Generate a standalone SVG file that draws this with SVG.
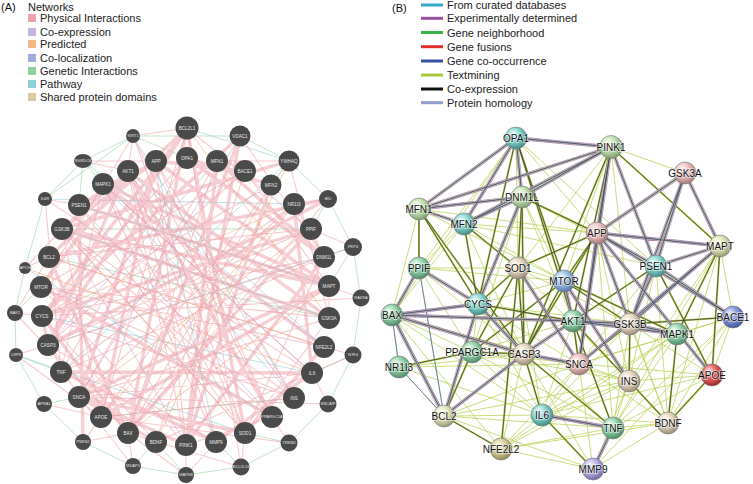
<svg xmlns="http://www.w3.org/2000/svg" xmlns:xlink="http://www.w3.org/1999/xlink" width="753" height="484" viewBox="0 0 753 484">
<style>
text{font-family:"Liberation Sans",Arial,sans-serif}
.lg{font-size:11px;fill:#222}
.pl{font-size:11px;fill:#111}
.an{fill:#4a4a4a}
.at{font-size:4.6px;fill:#e6e6e6;text-anchor:middle}
.as{font-size:4px;fill:#e6e6e6;text-anchor:middle}
.bt{font-size:10px;fill:#111;text-anchor:middle;stroke:#fff;stroke-width:1.6px;stroke-opacity:.6;paint-order:stroke}
.bn{stroke:#777;stroke-width:.6}
.e{fill:none;stroke-linecap:round}
.pk1{stroke:#ee9da7;stroke-width:3.4;opacity:.5}
.pk2{stroke:#ef9ea8;stroke-width:1.1;opacity:.55}
.gr{stroke:#8fd0a0;stroke-width:.8;opacity:.7}
.cy{stroke:#8ccad8;stroke-width:.8;opacity:.7}
.or{stroke:#f3b27a;stroke-width:.9;opacity:.7}
.lv{stroke:#bba8dc;stroke-width:.8;opacity:.7}
</style>
<defs>
<radialGradient id="gTeal" cx=".42" cy=".38" r=".62" fx=".35" fy=".3"><stop offset="0" stop-color="#f2ffff"/><stop offset=".5" stop-color="#8ad6d0"/><stop offset="1" stop-color="#3f8f8a"/></radialGradient>
<radialGradient id="gMint" cx=".42" cy=".38" r=".62" fx=".35" fy=".3"><stop offset="0" stop-color="#f2fff6"/><stop offset=".5" stop-color="#92d4aa"/><stop offset="1" stop-color="#4f8f68"/></radialGradient>
<radialGradient id="gPale" cx=".42" cy=".38" r=".62" fx=".35" fy=".3"><stop offset="0" stop-color="#fbfff6"/><stop offset=".5" stop-color="#c6e2b4"/><stop offset="1" stop-color="#82a272"/></radialGradient>
<radialGradient id="gBeige" cx=".42" cy=".38" r=".62" fx=".35" fy=".3"><stop offset="0" stop-color="#fffdf8"/><stop offset=".5" stop-color="#e6d6bf"/><stop offset="1" stop-color="#9e907a"/></radialGradient>
<radialGradient id="gPink" cx=".42" cy=".38" r=".62" fx=".35" fy=".3"><stop offset="0" stop-color="#fff8f8"/><stop offset=".5" stop-color="#eec2c2"/><stop offset="1" stop-color="#a87a7a"/></radialGradient>
<radialGradient id="gYel" cx=".42" cy=".38" r=".62" fx=".35" fy=".3"><stop offset="0" stop-color="#fffff4"/><stop offset=".5" stop-color="#e2e5bb"/><stop offset="1" stop-color="#9a9c72"/></radialGradient>
<radialGradient id="gOlive" cx=".42" cy=".38" r=".62" fx=".35" fy=".3"><stop offset="0" stop-color="#fffbea"/><stop offset=".5" stop-color="#dbd09a"/><stop offset="1" stop-color="#938957"/></radialGradient>
<radialGradient id="gBlue" cx=".42" cy=".38" r=".62" fx=".35" fy=".3"><stop offset="0" stop-color="#f4f9ff"/><stop offset=".5" stop-color="#9cc0e8"/><stop offset="1" stop-color="#5778aa"/></radialGradient>
<radialGradient id="gInd" cx=".42" cy=".38" r=".62" fx=".35" fy=".3"><stop offset="0" stop-color="#eef1ff"/><stop offset=".5" stop-color="#8899dc"/><stop offset="1" stop-color="#45559c"/></radialGradient>
<radialGradient id="gRed" cx=".42" cy=".38" r=".62" fx=".35" fy=".3"><stop offset="0" stop-color="#ffeaea"/><stop offset=".5" stop-color="#e86464"/><stop offset="1" stop-color="#a02828"/></radialGradient>
<radialGradient id="gLav" cx=".42" cy=".38" r=".62" fx=".35" fy=".3"><stop offset="0" stop-color="#f6f4ff"/><stop offset=".5" stop-color="#bcb5ea"/><stop offset="1" stop-color="#736aa8"/></radialGradient>
<path id="bS" d="M516 138L419 209M516 138L464 224M516 138L522 197M516 138L611 147M419 209L464 224M419 209L522 197M419 209L611 147M464 224L611 147M464 224L522 197M522 197L611 147M522 197L478 304M611 147L597 233M611 147L579 364M611 147L656 266M685 173L656 266M685 173L720 246M685 173L597 233M685 173L630 324M597 233L656 266M597 233L720 246M597 233L733 317M597 233L712 375M597 233L630 324M597 233L579 364M720 246L656 266M720 246L630 324M720 246L579 364M656 266L733 317M656 266L630 324M564 281L573 321M564 281L629 381M392 315L478 304M392 315L524 354M392 315L444 416M478 304L524 354M478 304L444 416M573 321L630 324M573 321L524 354M573 321L677 334M630 324L677 334M524 354L444 416M524 354L579 364M542 415L613 428M613 428L593 469M419 268L478 304M419 268L392 315M392 315L573 321M518 268L579 364"/>
<path id="bM" d="M516 138L564 281M516 138L478 304M516 138L573 321M419 209L478 304M419 209L419 268M419 209L524 354M464 224L518 268M464 224L478 304M522 197L524 354M522 197L597 233M522 197L518 268M611 147L573 321M611 147L720 246M611 147L524 354M597 233L524 354M597 233L564 281M597 233L518 268M720 246L677 334M720 246L712 375M656 266L712 375M656 266L524 354M564 281L630 324M564 281L472 352M564 281L524 354M478 304L573 321M478 304L518 268M573 321L629 381M573 321L579 364M573 321L613 428M630 324L579 364M630 324L629 381M630 324L733 317M524 354L472 352M524 354L613 428M524 354L542 415M444 416L501 449M542 415L593 469M629 381L668 423M712 375L668 423M677 334L668 423M518 268L524 354M518 268L472 352M518 268L501 449M399 367L472 352M472 352L444 416M564 281L677 334"/>
</defs>
<rect width="753" height="484" fill="#fff"/>

<g id="legend-a">
<text class="pl" x="1" y="11">(A)</text>
<text class="lg" x="28" y="11">Networks</text>
<rect x="28" y="14" width="8" height="8" fill="#eea2ab"/><text class="lg" x="40" y="22">Physical Interactions</text>
<rect x="28" y="28" width="8" height="8" fill="#c6b4da"/><text class="lg" x="40" y="35.5">Co-expression</text>
<rect x="28" y="40" width="8" height="8" fill="#f4b684"/><text class="lg" x="40" y="48">Predicted</text>
<rect x="28" y="54" width="8" height="8" fill="#9eaedc"/><text class="lg" x="40" y="61.5">Co-localization</text>
<rect x="28" y="67" width="8" height="8" fill="#8ed09e"/><text class="lg" x="40" y="74.5">Genetic Interactions</text>
<rect x="28" y="80" width="8" height="8" fill="#8ccfd8"/><text class="lg" x="40" y="88">Pathway</text>
<rect x="28" y="93" width="8" height="8" fill="#d6cc9f"/><text class="lg" x="40" y="101">Shared protein domains</text>
</g>

<g id="legend-b">
<text class="pl" x="392" y="11.5">(B)</text>
<line x1="421" y1="5" x2="443" y2="5" stroke="#3aa6cc" stroke-width="3"/><text class="lg" x="447" y="9.2">From curated databases</text>
<line x1="421" y1="18.3" x2="443" y2="18.3" stroke="#9a4f9c" stroke-width="3"/><text class="lg" x="447" y="22.3">Experimentally determined</text>
<line x1="421" y1="32.5" x2="443" y2="32.5" stroke="#38b24a" stroke-width="3"/><text class="lg" x="447" y="36.5">Gene neighborhood</text>
<line x1="421" y1="46.7" x2="443" y2="46.7" stroke="#e52a2a" stroke-width="3"/><text class="lg" x="447" y="50.7">Gene fusions</text>
<line x1="421" y1="61" x2="443" y2="61" stroke="#3450a0" stroke-width="3"/><text class="lg" x="447" y="65">Gene co-occurrence</text>
<line x1="421" y1="75" x2="443" y2="75" stroke="#a8c83c" stroke-width="3"/><text class="lg" x="447" y="79">Textmining</text>
<line x1="421" y1="89" x2="443" y2="89" stroke="#111" stroke-width="3"/><text class="lg" x="447" y="93">Co-expression</text>
<line x1="421" y1="102.7" x2="443" y2="102.7" stroke="#8f9ccc" stroke-width="3"/><text class="lg" x="447" y="106.7">Protein homology</text>
</g>

<g id="connectors-a">
<path class="e gr" d="M133 136L83 161M133 136L240 136M83 161L45 199M83 161L103 184M240 136L289 161M289 161L328 199M328 199L353 247M353 247L361 298M361 298L353 355M353 355L328 404M328 404L289 443M289 443L241 467M241 467L186 475M186 475L133 466M133 466L83 442M83 442L44 404M44 404L16 355M16 355L15 313M15 313L25 268M25 268L45 199M45 199L133 136M133 136L187 158M83 161L79 205M289 161L271 185M328 199L311 229M353 247L329 286M353 355L312 373M44 404L79 397M16 355L61 372M15 313L41 287M133 466L156 442M241 467L216 442M289 443L245 433M186 475L156 442M62 229L311 229M101 417L294 398M49 257L329 318"/>
<path class="e cy" d="M187 128L289 161M103 184L294 398M42 316L312 373M62 229L329 318M128 171L324 347M156 161L216 442M79 205L329 286M48 345L353 247M61 372L289 161M45 199L294 204M16 355L245 433M133 136L294 398M83 161L324 347M25 268L272 417"/>
<path class="e or" d="M187 128L329 318M42 316L294 204M49 257L324 347M101 417L294 204M128 433L329 286M79 397L311 229M156 442L289 161M245 433L62 229M25 268L312 373"/>
<path class="e lv" d="M217 161L48 345M240 136L79 397M186 445L62 229M272 417L79 205M312 373L103 184"/>
<path class="e pk2" d="M133 136L128 171M133 136L187 128M133 136L41 287M133 136L272 417M133 136L245 433M83 161L128 171M83 161L156 161M45 199L312 373M45 199L61 372M45 199L79 205M25 268L49 257M25 268L62 229M15 313L42 316M15 313L49 257M15 313L128 433M16 355L101 417M16 355L48 345M44 404L101 417M83 442L101 417M83 442L128 433M133 466L128 433M133 466L79 397M186 475L186 445M186 475L216 442M186 475L128 433M241 467L245 433M241 467L128 433M241 467L187 128M289 443L272 417M289 443L101 417M328 404L79 397M328 404L312 373M353 355L156 442M353 355L324 347M361 298L329 286M361 298L42 316M353 247L324 257M353 247L311 229M328 199L294 204M328 199L128 433M289 161L217 161M289 161L329 318M294 204L324 257M294 204L61 372M311 229L324 257M324 257L42 316M324 257L245 433M329 286L329 318M329 318L79 397M329 318L245 433M324 347L41 287M312 373L79 397M312 373L156 442M294 398L41 287M294 398L128 171M294 398L101 417M272 417L186 445M245 433L128 171M216 442L48 345M156 442L42 316M186 445L41 287M128 433L48 345M101 417L62 229M79 397L48 345M61 372L103 184M48 345L324 257M41 287L245 171M49 257L311 229M62 229L294 398M79 205L245 433M103 184L216 442M128 171L186 445M156 161L294 398M187 158L42 316M217 161L128 433M245 171L329 286M271 185L42 316M240 136L324 257M187 128L311 229M187 128L101 417M187 158L61 372M217 161L79 397M245 171L48 345M271 185L128 433M156 161L272 417M103 184L312 373M62 229L245 433M49 257L324 347M41 287L329 318M42 316L294 398M48 345L311 229M61 372L324 257M79 397L294 204M101 417L289 161M128 433L294 204M156 442L245 171M186 445L156 161M216 442L128 171M245 433L103 184M272 417L62 229"/>
<path class="e pk1" d="M187 128L128 433M187 128L48 345M187 128L42 316M187 128L49 257M187 128L245 433M187 158L324 257M187 158L271 185M217 161L324 257M217 161L186 445M156 161L79 397M156 161L101 417M156 161L329 286M156 161L79 205M156 161L245 171M156 161L62 229M128 171L62 229M128 171L41 287M128 171L329 318M128 171L48 345M128 171L272 417M103 184L329 286M103 184L324 347M240 136L42 316M240 136L128 433M240 136L186 445M42 316L48 345M42 316L128 433M49 257L128 433M61 372L312 373M79 397L186 445M79 397L329 286M101 417L329 286M62 229L329 286M62 229L329 318M79 205L329 286M79 205L83 442M311 229L128 433M311 229L42 316M294 204L312 373M245 433L79 397M216 442L61 372M216 442L312 373M156 442L79 397M272 417L41 287M271 185L186 445M324 257L186 445M289 161L62 229M328 199L49 257M328 199L48 345M324 347L245 433"/>
</g>

<g id="connectors-b">
<path class="e" stroke="#bcd45a" stroke-width=".8" d="M392 315L399 367M392 315L472 352M392 315L501 449M392 315L542 415M419 268L444 416M419 268L518 268M419 268L564 281M419 268L472 352M399 367L524 354M399 367L444 416M444 416L542 415M444 416L579 364M444 416L613 428M501 449L524 354M501 449L542 415M501 449L579 364M501 449L629 381M501 449L613 428M501 449L668 423M501 449L677 334M542 415L579 364M542 415L629 381M542 415L668 423M542 415L573 321M542 415L677 334M542 415L630 324M542 415L712 375M593 469L579 364M593 469L668 423M593 469L629 381M593 469L524 354M593 469L444 416M593 469L501 449M593 469L733 317M613 428L668 423M613 428L629 381M613 428L630 324M613 428L712 375M613 428L677 334M613 428L733 317M668 423L733 317M668 423L579 364M668 423L630 324M712 375L733 317M712 375L677 334M712 375L630 324M712 375L579 364M677 334L733 317M677 334L579 364M677 334L629 381M629 381L579 364M629 381L712 375M733 317L720 246M733 317L579 364M720 246L629 381M720 246L668 423M720 246L613 428M656 266L579 364M656 266L668 423M656 266L629 381M597 233L629 381M597 233L668 423M597 233L613 428M611 147L685 173M611 147L564 281M611 147L518 268M611 147L630 324M516 138L597 233M516 138L656 266M516 138L518 268M516 138L419 268M516 138L392 315M419 209L392 315M419 209L564 281M419 209L597 233M464 224L392 315M464 224L419 268M464 224L564 281M464 224L524 354M464 224L597 233M464 224L656 266M522 197L656 266M522 197L564 281M522 197L573 321M522 197L472 352M478 304L472 352M478 304L564 281M478 304L542 415M478 304L613 428M478 304L630 324M478 304L579 364M518 268L564 281M518 268L630 324M518 268L629 381M518 268L542 415M472 352L573 321M472 352L542 415M472 352L629 381M472 352L579 364M472 352L613 428M399 367L579 364M399 367L542 415M444 416L629 381M392 315L629 381M419 268L613 428"/>
<path class="e" stroke="#4a62b4" stroke-width=".9" opacity=".85" d="M392 315L444 416M399 367L444 416M419 268L444 416M564 281L630 324M630 324L677 334M392 315L399 367M478 304L392 315"/>
<path class="e" stroke="#3fb0d2" stroke-width=".9" opacity=".85" d="M573 321L630 324M542 415L613 428M395 318L447 419M597 233L656 266M564 281L573 321"/>
<use href="#bM" class="e" stroke="#b4ce50" stroke-width="2"/>
<use href="#bM" class="e" stroke="#333" stroke-width=".75"/>
<use href="#bS" class="e" stroke="#9a5a9c" stroke-width="3.4" opacity=".75"/>
<use href="#bS" class="e" stroke="#cdd79a" stroke-width="2.2"/>
<use href="#bS" class="e" stroke="#8f9ccc" stroke-width="1.3"/>
<use href="#bS" class="e" stroke="#333" stroke-width=".6"/>
</g>

<g id="nodes-a">
<g id="a-SIRT1"><circle class="an" cx="133" cy="136" r="7"/><text class="as" x="133" y="137.4">SIRT1</text></g>
<g id="a-BCL2L1"><circle class="an" cx="187" cy="128" r="11.5"/><text class="at" x="187" y="129.6">BCL2L1</text></g>
<g id="a-VDAC1"><circle class="an" cx="240" cy="136" r="10.5"/><text class="at" x="240" y="137.6">VDAC1</text></g>
<g id="a-SGRDC6"><ellipse class="an" cx="83" cy="161" rx="9" ry="7"/><text class="as" x="83" y="162.4">SGRDC6</text></g>
<g id="a-APP"><circle class="an" cx="156" cy="161" r="11"/><text class="at" x="156" y="162.6">APP</text></g>
<g id="a-OPA1"><circle class="an" cx="187" cy="158" r="11"/><text class="at" x="187" y="159.6">OPA1</text></g>
<g id="a-MFN1"><circle class="an" cx="217" cy="161" r="11"/><text class="at" x="217" y="162.6">MFN1</text></g>
<g id="a-AKT1"><circle class="an" cx="128" cy="171" r="11"/><text class="at" x="128" y="172.6">AKT1</text></g>
<g id="a-BACE1"><circle class="an" cx="245" cy="171" r="11"/><text class="at" x="245" y="172.6">BACE1</text></g>
<g id="a-YWHAQ"><circle class="an" cx="289" cy="161" r="10.5"/><text class="at" x="289" y="162.6">YWHAQ</text></g>
<g id="a-MAPK1"><circle class="an" cx="103" cy="184" r="11"/><text class="at" x="103" y="185.6">MAPK1</text></g>
<g id="a-MFN2"><circle class="an" cx="271" cy="185" r="10.5"/><text class="at" x="271" y="186.6">MFN2</text></g>
<g id="a-IL6R"><circle class="an" cx="45" cy="199" r="7"/><text class="as" x="45" y="200.4">IL6R</text></g>
<g id="a-PSEN1"><circle class="an" cx="79" cy="205" r="11"/><text class="at" x="79" y="206.6">PSEN1</text></g>
<g id="a-BID"><circle class="an" cx="328" cy="199" r="9"/><text class="as" x="328" y="200.4">BID</text></g>
<g id="a-NR1I3"><circle class="an" cx="294" cy="204" r="11"/><text class="at" x="294" y="205.6">NR1I3</text></g>
<g id="a-GSK3B"><circle class="an" cx="62" cy="229" r="11"/><text class="at" x="62" y="230.6">GSK3B</text></g>
<g id="a-PPIF"><circle class="an" cx="311" cy="229" r="11"/><text class="at" x="311" y="230.6">PPIF</text></g>
<g id="a-PKP4"><circle class="an" cx="353" cy="247" r="9"/><text class="as" x="353" y="248.4">PKP4</text></g>
<g id="a-BCL2"><circle class="an" cx="49" cy="257" r="11"/><text class="at" x="49" y="258.6">BCL2</text></g>
<g id="a-DNM1L"><circle class="an" cx="324" cy="257" r="11"/><text class="at" x="324" y="258.6">DNM1L</text></g>
<g id="a-MAPCHD"><circle class="an" cx="25" cy="268" r="6"/><text class="as" x="25" y="269.4">MAPCHD</text></g>
<g id="a-MTOR"><circle class="an" cx="41" cy="287" r="11"/><text class="at" x="41" y="288.6">MTOR</text></g>
<g id="a-MAPT"><circle class="an" cx="329" cy="286" r="11"/><text class="at" x="329" y="287.6">MAPT</text></g>
<g id="a-RAD9A"><circle class="an" cx="361" cy="298" r="8.5"/><text class="as" x="361" y="299.4">RAD9A</text></g>
<g id="a-BAK1"><circle class="an" cx="15" cy="313" r="8"/><text class="as" x="15" y="314.4">BAK1</text></g>
<g id="a-CYCS"><circle class="an" cx="42" cy="316" r="11"/><text class="at" x="42" y="317.6">CYCS</text></g>
<g id="a-GSK3A"><circle class="an" cx="329" cy="318" r="11"/><text class="at" x="329" y="319.6">GSK3A</text></g>
<g id="a-CASP3"><circle class="an" cx="48" cy="345" r="11"/><text class="at" x="48" y="346.6">CASP3</text></g>
<g id="a-NFE2L2"><circle class="an" cx="324" cy="347" r="11"/><text class="at" x="324" y="348.6">NFE2L2</text></g>
<g id="a-NTF4"><circle class="an" cx="353" cy="355" r="8.5"/><text class="as" x="353" y="356.4">NTF4</text></g>
<g id="a-LRP8"><circle class="an" cx="16" cy="355" r="7"/><text class="as" x="16" y="356.4">LRP8</text></g>
<g id="a-TNF"><circle class="an" cx="61" cy="372" r="11"/><text class="at" x="61" y="373.6">TNF</text></g>
<g id="a-IL6"><circle class="an" cx="312" cy="373" r="11"/><text class="at" x="312" y="374.6">IL6</text></g>
<g id="a-APRA1"><circle class="an" cx="44" cy="404" r="8"/><text class="as" x="44" y="405.4">APRA1</text></g>
<g id="a-SNCA"><circle class="an" cx="79" cy="397" r="11"/><text class="at" x="79" y="398.6">SNCA</text></g>
<g id="a-INS"><circle class="an" cx="294" cy="398" r="11"/><text class="at" x="294" y="399.6">INS</text></g>
<g id="a-SNCAIP"><circle class="an" cx="328" cy="404" r="8.5"/><text class="as" x="328" y="405.4">SNCAIP</text></g>
<g id="a-APOE"><circle class="an" cx="101" cy="417" r="11"/><text class="at" x="101" y="418.6">APOE</text></g>
<g id="a-PPARGC1A"><circle class="an" cx="272" cy="417" r="11"/><text class="as" x="272" y="418.4">PPARGC1A</text></g>
<g id="a-BAX"><circle class="an" cx="128" cy="433" r="11"/><text class="at" x="128" y="434.6">BAX</text></g>
<g id="a-SOD1"><circle class="an" cx="245" cy="433" r="11"/><text class="at" x="245" y="434.6">SOD1</text></g>
<g id="a-BDNF"><circle class="an" cx="156" cy="442" r="11"/><text class="at" x="156" y="443.6">BDNF</text></g>
<g id="a-PINK1"><circle class="an" cx="186" cy="445" r="11"/><text class="at" x="186" y="446.6">PINK1</text></g>
<g id="a-MMP9"><circle class="an" cx="216" cy="442" r="11"/><text class="at" x="216" y="443.6">MMP9</text></g>
<g id="a-PSEN2"><circle class="an" cx="83" cy="442" r="8"/><text class="as" x="83" y="443.4">PSEN2</text></g>
<g id="a-TREM2"><circle class="an" cx="289" cy="443" r="8.5"/><text class="as" x="289" y="444.4">TREM2</text></g>
<g id="a-MDAP1"><circle class="an" cx="133" cy="466" r="8"/><text class="as" x="133" y="467.4">MDAP1</text></g>
<g id="a-MAPK8"><circle class="an" cx="186" cy="475" r="8"/><text class="as" x="186" y="476.4">MAPK8</text></g>
<g id="a-BCL2L11"><circle class="an" cx="241" cy="467" r="8.5"/><text class="as" x="241" y="468.4">BCL2L11</text></g>
</g>

<g id="nodes-b">
<g id="b-OPA1"><circle class="bn" cx="516" cy="138" r="11" fill="url(#gTeal)"/><text class="bt" x="516" y="141.5">OPA1</text></g>
<g id="b-PINK1"><circle class="bn" cx="611" cy="147" r="11.5" fill="url(#gPale)"/><text class="bt" x="611" y="150.5">PINK1</text></g>
<g id="b-GSK3A"><circle class="bn" cx="685" cy="173" r="11" fill="url(#gPink)"/><text class="bt" x="685" y="176.5">GSK3A</text></g>
<g id="b-DNM1L"><circle class="bn" cx="522" cy="197" r="11" fill="url(#gPale)"/><text class="bt" x="522" y="200.5">DNM1L</text></g>
<g id="b-MFN1"><circle class="bn" cx="419" cy="209" r="11" fill="url(#gPale)"/><text class="bt" x="419" y="212.5">MFN1</text></g>
<g id="b-MFN2"><circle class="bn" cx="464" cy="224" r="11" fill="url(#gTeal)"/><text class="bt" x="464" y="227.5">MFN2</text></g>
<g id="b-APP"><circle class="bn" cx="597" cy="233" r="11" fill="url(#gPink)"/><text class="bt" x="597" y="236.5">APP</text></g>
<g id="b-MAPT"><circle class="bn" cx="720" cy="246" r="11" fill="url(#gYel)"/><text class="bt" x="720" y="249.5">MAPT</text></g>
<g id="b-PPIF"><circle class="bn" cx="419" cy="268" r="11" fill="url(#gMint)"/><text class="bt" x="419" y="271.5">PPIF</text></g>
<g id="b-SOD1"><circle class="bn" cx="518" cy="268" r="11" fill="url(#gBeige)"/><text class="bt" x="518" y="271.5">SOD1</text></g>
<g id="b-PSEN1"><circle class="bn" cx="656" cy="266" r="11" fill="url(#gTeal)"/><text class="bt" x="656" y="269.5">PSEN1</text></g>
<g id="b-MTOR"><circle class="bn" cx="564" cy="281" r="11" fill="url(#gBlue)"/><text class="bt" x="564" y="284.5">MTOR</text></g>
<g id="b-BAX"><circle class="bn" cx="392" cy="315" r="11" fill="url(#gMint)"/><text class="bt" x="392" y="318.5">BAX</text></g>
<g id="b-CYCS"><circle class="bn" cx="478" cy="304" r="11" fill="url(#gTeal)"/><text class="bt" x="478" y="307.5">CYCS</text></g>
<g id="b-AKT1"><circle class="bn" cx="573" cy="321" r="11" fill="url(#gMint)"/><text class="bt" x="573" y="324.5">AKT1</text></g>
<g id="b-GSK3B"><circle class="bn" cx="630" cy="324" r="11" fill="url(#gBeige)"/><text class="bt" x="630" y="327.5">GSK3B</text></g>
<g id="b-BACE1"><circle class="bn" cx="733" cy="317" r="11" fill="url(#gInd)"/><text class="bt" x="733" y="320.5">BACE1</text></g>
<g id="b-MAPK1"><circle class="bn" cx="677" cy="334" r="11" fill="url(#gMint)"/><text class="bt" x="677" y="337.5">MAPK1</text></g>
<g id="b-PPARGC1A"><circle class="bn" cx="472" cy="352" r="11" fill="url(#gMint)"/><text class="bt" x="472" y="355.5">PPARGC1A</text></g>
<g id="b-CASP3"><circle class="bn" cx="524" cy="354" r="11" fill="url(#gBeige)"/><text class="bt" x="524" y="357.5">CASP3</text></g>
<g id="b-NR1I3"><circle class="bn" cx="399" cy="367" r="11" fill="url(#gMint)"/><text class="bt" x="399" y="370.5">NR1I3</text></g>
<g id="b-SNCA"><circle class="bn" cx="579" cy="364" r="11" fill="url(#gPink)"/><text class="bt" x="579" y="367.5">SNCA</text></g>
<g id="b-INS"><circle class="bn" cx="629" cy="381" r="11" fill="url(#gBeige)"/><text class="bt" x="629" y="384.5">INS</text></g>
<g id="b-APOE"><circle class="bn" cx="712" cy="375" r="11" fill="url(#gRed)"/><text class="bt" x="712" y="378.5">APOE</text></g>
<g id="b-IL6"><circle class="bn" cx="542" cy="415" r="11" fill="url(#gTeal)"/><text class="bt" x="542" y="418.5">IL6</text></g>
<g id="b-BCL2"><circle class="bn" cx="444" cy="416" r="11" fill="url(#gYel)"/><text class="bt" x="444" y="419.5">BCL2</text></g>
<g id="b-TNF"><circle class="bn" cx="613" cy="428" r="11" fill="url(#gMint)"/><text class="bt" x="613" y="431.5">TNF</text></g>
<g id="b-BDNF"><circle class="bn" cx="668" cy="423" r="11" fill="url(#gBeige)"/><text class="bt" x="668" y="426.5">BDNF</text></g>
<g id="b-NFE2L2"><circle class="bn" cx="501" cy="449" r="11" fill="url(#gOlive)"/><text class="bt" x="501" y="452.5">NFE2L2</text></g>
<g id="b-MMP9"><circle class="bn" cx="593" cy="469" r="11" fill="url(#gLav)"/><text class="bt" x="593" y="472.5">MMP9</text></g>
</g>
</svg>
